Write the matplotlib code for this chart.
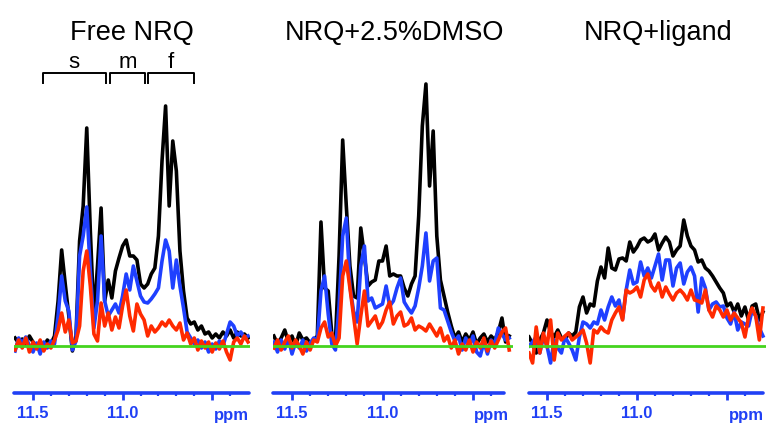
import matplotlib.pyplot as plt
import numpy as np

plt.rcParams['font.family'] = ['Liberation Sans', 'DejaVu Sans']

# chemical shift grid shared by all traces (ppm), intensities in arbitrary units
ppm = np.round(11.60 - 0.02 * np.arange(66), 2)

free_black = [8, 3, 7, 2, 10, 4, -1, 4, -2, 6,
              2, 10, 45, 96, 62, 30, -5, 10, 105, 140,
              218, 115, 28, 80, 138, 45, 66, 48, 75, 88,
              100, 106, 90, 90, 86, 62, 58, 62, 72, 78,
              110, 185, 240, 140, 205, 175, 95, 55, 28, 22,
              24, 16, 20, 12, 14, 8, 12, 8, 14, 10,
              16, 8, 14, 10, 12, 8]
free_blue = [-5, 8, 3, 9, 0, -6, 3, -8, 4, -2,
             5, 2, 30, 70, 45, 35, -4, 5, 90, 110,
             139, 75, 18, 45, 110, 45, 30, 36, 42, 33,
             50, 72, 56, 80, 65, 50, 44, 43, 47, 52,
             58, 85, 106, 95, 58, 86, 60, 38, 14, 8,
             2, 6, -2, 4, -6, 2, -3, 5, 0, 12,
             24, 20, 10, 14, 8, 10]
free_red = [-4, 6, -2, 8, -6, 4, -3, 6, -5, 2,
            -2, 6, 16, 33, 14, 26, 3, 5, 20, 75,
            95, 60, 12, 5, 43, 20, 33, 16, 29, 18,
            40, 56, 30, 15, 42, 32, 26, 10, 20, 14,
            18, 24, 20, 26, 20, 16, 23, 6, 13, 2,
            8, -4, 5, -2, 4, -6, 3, -3, 5, -6,
            -14, 4, 8, 2, 10, 4]

dmso_black = [10, 2, 8, 16, 4, 10, 0, 13, 6, 8,
              3, 6, 10, 124, 58, 55, 12, 5, 90, 206,
              140, 80, 50, 48, 118, 90, 60, 64, 66, 85,
              85, 100, 70, 72, 70, 70, 58, 50, 62, 70,
              130, 220, 262, 160, 215, 110, 66, 50, 34, 20,
              8, 14, 4, 12, 6, 14, 2, 8, 12, 4,
              10, 6, 14, 28, 4, 10]
dmso_blue = [4, -6, 6, -3, 8, -8, 4, -2, 6, -5,
             3, 8, 6, 55, 70, 32, 2, -4, 40, 110,
             128, 60, 35, 24, 80, 100, 45, 48, 38, 40,
             42, 60, 40, 45, 58, 68, 44, 38, 33, 40,
             58, 80, 113, 65, 85, 88, 38, 36, 25, 14,
             5, 10, -4, 8, 0, 10, -6, -10, 4, -8,
             6, 2, 18, 12, 6, 8]
dmso_red = [-2, 6, -4, 4, 10, -2, 6, 0, -8, 4,
            -4, 6, 4, 18, 24, 9, 13, 0, 8, 70,
            85, 58, 30, 2, 30, 55, 20, 25, 30, 18,
            24, 36, 44, 22, 30, 34, 20, 22, 28, 16,
            20, 18, 15, 22, 16, 10, 18, 5, 10, -2,
            6, -8, 2, -4, 6, -6, 4, -2, 8, -5,
            5, -2, 6, 14, 18, -4]

lig_black = [9, 2, -7, 6, 13, 26, 14, 9, 16, 8,
             6, 13, 10, 14, 39, 49, 33, 42, 40, 65,
             79, 68, 98, 78, 76, 87, 88, 85, 104, 94,
             99, 106, 108, 104, 106, 112, 96, 103, 109, 104,
             90, 96, 100, 126, 110, 100, 96, 84, 86, 78,
             75, 70, 64, 58, 53, 40, 43, 34, 42, 30,
             39, 26, 40, 42, 26, 34]
lig_blue = [0, 4, 9, -7, 9, 0, -17, 6, -2, -7,
            9, 3, -4, -14, 9, 24, 22, 18, 24, 22,
            36, 26, 39, 49, 40, 46, 27, 56, 76, 62,
            64, 84, 70, 78, 68, 80, 92, 66, 86, 86,
            60, 78, 83, 62, 74, 79, 70, 34, 68, 58,
            36, 42, 44, 39, 40, 28, 22, 34, 16, 24,
            22, 20, 36, 30, 18, 10]
lig_red = [-7, -17, 19, -7, 13, -1, 26, -14, 13, 6,
           10, 13, 6, 9, 12, 16, 3, -17, 16, 13,
           19, 15, 13, 26, 33, 39, 26, 56, 53, 55,
           59, 49, 66, 72, 60, 55, 63, 49, 59, 52,
           46, 53, 56, 52, 46, 56, 46, 45, 43, 56,
           36, 29, 40, 36, 29, 36, 26, 33, 28, 23,
           9, 29, 38, 30, 6, 38]

titles = ['Free NRQ', 'NRQ+2.5%DMSO', 'NRQ+ligand']
spectra = [(free_black, free_blue, free_red),
           (dmso_black, dmso_blue, dmso_red),
           (lig_black, lig_blue, lig_red)]

major_ticks = [11.5, 11.0, 10.5]
major_labels = ['11.5', '11.0', '']
minor_ticks = [11.4, 11.3, 11.2, 11.1, 10.9, 10.8, 10.7, 10.6, 10.4]

# slow / medium / fast exchange regions marked on the first panel
regions = ['s', 'm', 'f']
region_start = [11.446, 11.072, 10.859]
region_end = [11.094, 10.874, 10.60]

W, H = 766, 423
fig = plt.figure(figsize=(W / 100, H / 100), dpi=100)

# pixel extents of each panel and the ppm range they show
px_left = [14, 273, 529]
px_right = [250, 513, 766]
ppm_left = [11.606, 11.605, 11.60]
ppm_right = [10.289, 10.279, 10.283]
spine_right = [10.294, 10.33, 10.30]
ppm_label_x = [249, 509, 764]
title_x = [132, 394, 658]

axis_blue = '#2040f5'
y_bot, y_top = 393, 60

for k in range(3):
    ax = fig.add_axes([px_left[k] / W, (H - y_bot) / H,
                       (px_right[k] - px_left[k]) / W, (y_bot - y_top) / H])
    ax.set_xlim(ppm_left[k], ppm_right[k])
    ax.set_ylim(-47, y_bot - y_top - 47)
    black, blue, red = spectra[k]
    ax.plot(ppm, black, color='black', lw=2.6, solid_joinstyle='round')
    ax.plot(ppm, blue, color='#1f40ff', lw=2.6, solid_joinstyle='round')
    ax.plot(ppm, red, color='#ff2a00', lw=2.6, solid_joinstyle='round')
    ax.axhline(0, color='#44d41e', lw=2.0)

    for s in ['top', 'left', 'right']:
        ax.spines[s].set_visible(False)
    sp = ax.spines['bottom']
    sp.set_color(axis_blue)
    sp.set_linewidth(2.6)
    sp.set_capstyle('round')
    sp.set_bounds(spine_right[k], ppm_left[k])
    ax.set_yticks([])
    ax.set_xticks(major_ticks)
    ax.set_xticklabels(major_labels)
    ax.set_xticks(minor_ticks, minor=True)
    ax.tick_params(axis='x', which='major', length=5, width=2,
                   color=axis_blue, labelcolor=axis_blue, pad=4,
                   labelsize=12)
    ax.tick_params(axis='x', which='minor', length=2.5, width=1.6,
                   color=axis_blue)
    for t in ax.get_xticklabels():
        t.set_fontweight('bold')
    ax.patch.set_alpha(0)

    fig.text(ppm_label_x[k] / W, 1 - 420 / H, 'ppm', ha='right',
             va='baseline', color=axis_blue, fontsize=12, fontweight='bold')
    fig.text(title_x[k] / W, 1 - 40 / H, titles[k], ha='center',
             va='baseline', fontsize=19.5)

    if k == 0:
        for lab, a, b in zip(regions, region_start, region_end):
            ax.plot([a, a, b, b], [263, 273, 273, 263], color='black',
                    lw=1.4, clip_on=False)
            ax.text((a + b) / 2, 277.5, lab, ha='center', va='baseline',
                    fontsize=16)

fig.savefig('out.png', dpi=100)
